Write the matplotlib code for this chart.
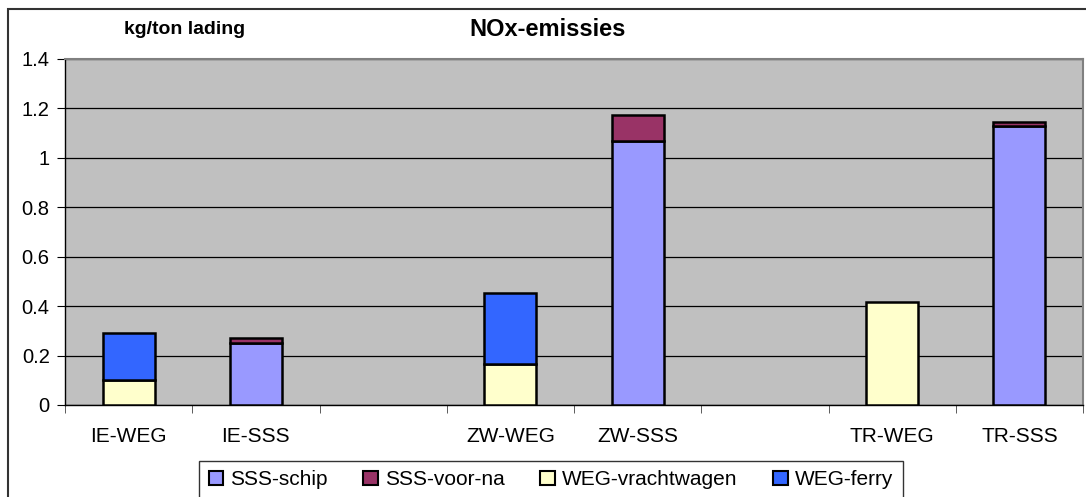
import matplotlib
matplotlib.use("Agg")
import matplotlib.pyplot as plt
from matplotlib.patches import Rectangle
import numpy as np

plt.rcParams['font.family'] = ['Liberation Sans', 'DejaVu Sans']

categories = ['IE-WEG', 'IE-SSS', '', 'ZW-WEG', 'ZW-SSS', '', 'TR-WEG', 'TR-SSS']
sss_schip = [0, 0.25, 0, 0, 1.07, 0, 0, 1.13]
sss_voor_na = [0, 0.02, 0, 0, 0.105, 0, 0, 0.017]
weg_vrachtwagen = [0.10, 0, 0, 0.166, 0, 0, 0.415, 0]
weg_ferry = [0.19, 0, 0, 0.286, 0, 0, 0, 0]
series_names = ['SSS-schip', 'SSS-voor-na', 'WEG-vrachtwagen', 'WEG-ferry']
colors = ['#9999FF', '#993366', '#FFFFCC', '#3366FF']
yticks = [0, 0.2, 0.4, 0.6, 0.8, 1, 1.2, 1.4]
ytick_labels = ['0', '0.2', '0.4', '0.6', '0.8', '1', '1.2', '1.4']

W, H = 1086, 497
fig = plt.figure(figsize=(W / 100, H / 100), dpi=100)
fig.patch.set_facecolor('white')
ax = fig.add_axes([65 / W, 1 - 405 / H, (1083 - 65) / W, (405 - 59) / H])
ax.set_facecolor('#C0C0C0')

x = np.arange(len(categories))
bottom = np.zeros(len(categories))
handles = []
for vals, name, col in zip([sss_schip, sss_voor_na, weg_vrachtwagen, weg_ferry], series_names, colors):
    vals = np.array(vals, dtype=float)
    mask = vals > 0
    ax.bar(x[mask], vals[mask], width=0.41, bottom=bottom[mask], color=col,
           edgecolor='black', linewidth=1.8, zorder=3)
    bottom += vals
    handles.append(Rectangle((0, 0), 1, 1, facecolor=col, edgecolor='black', linewidth=1.5))

ax.set_xlim(-0.5, len(categories) - 0.5)
ax.set_ylim(0, 1.4)
ax.set_yticks(yticks)
ax.set_yticklabels(ytick_labels, fontsize=14.5)
ax.set_xticks(x)
ax.set_xticklabels(categories, fontsize=15)
ax.set_xticks(np.arange(-0.5, len(categories)), minor=True)
ax.tick_params(axis='x', which='major', length=0, pad=16)
ax.tick_params(axis='x', which='minor', length=6, color='#404040', direction='out')
ax.tick_params(axis='y', length=6, color='black', direction='out', pad=5)
ax.yaxis.grid(True, color='black', linewidth=0.9, zorder=1)
ax.set_axisbelow(True)
for s in ['top', 'right']:
    ax.spines[s].set_color('#808080')
    ax.spines[s].set_linewidth(1.5)
for s in ['left', 'bottom']:
    ax.spines[s].set_color('black')
    ax.spines[s].set_linewidth(1.0)

fig.text(548 / W, 1 - 30 / H, 'NOx-emissies', fontsize=17, fontweight='bold',
         ha='center', va='center')
fig.text(185 / W, 1 - 30 / H, 'kg/ton lading', fontsize=14, fontweight='bold',
         ha='center', va='center')

leg = fig.legend(handles, series_names, loc='upper center',
                 bbox_to_anchor=(551 / W, 1 - 461 / H), ncol=4, fontsize=15,
                 frameon=True, fancybox=False, edgecolor='black',
                 handlelength=0.7, handleheight=0.7, handletextpad=0.35,
                 columnspacing=1.7, borderpad=0.45, borderaxespad=0)
leg.get_frame().set_linewidth(1.0)

fig.patches.append(Rectangle((8 / W, -0.2), 1.2, 1.2 - 9 / H, transform=fig.transFigure,
                             fill=False, edgecolor='#333333', linewidth=1.5, zorder=10))

fig.savefig('out.png', dpi=100)
